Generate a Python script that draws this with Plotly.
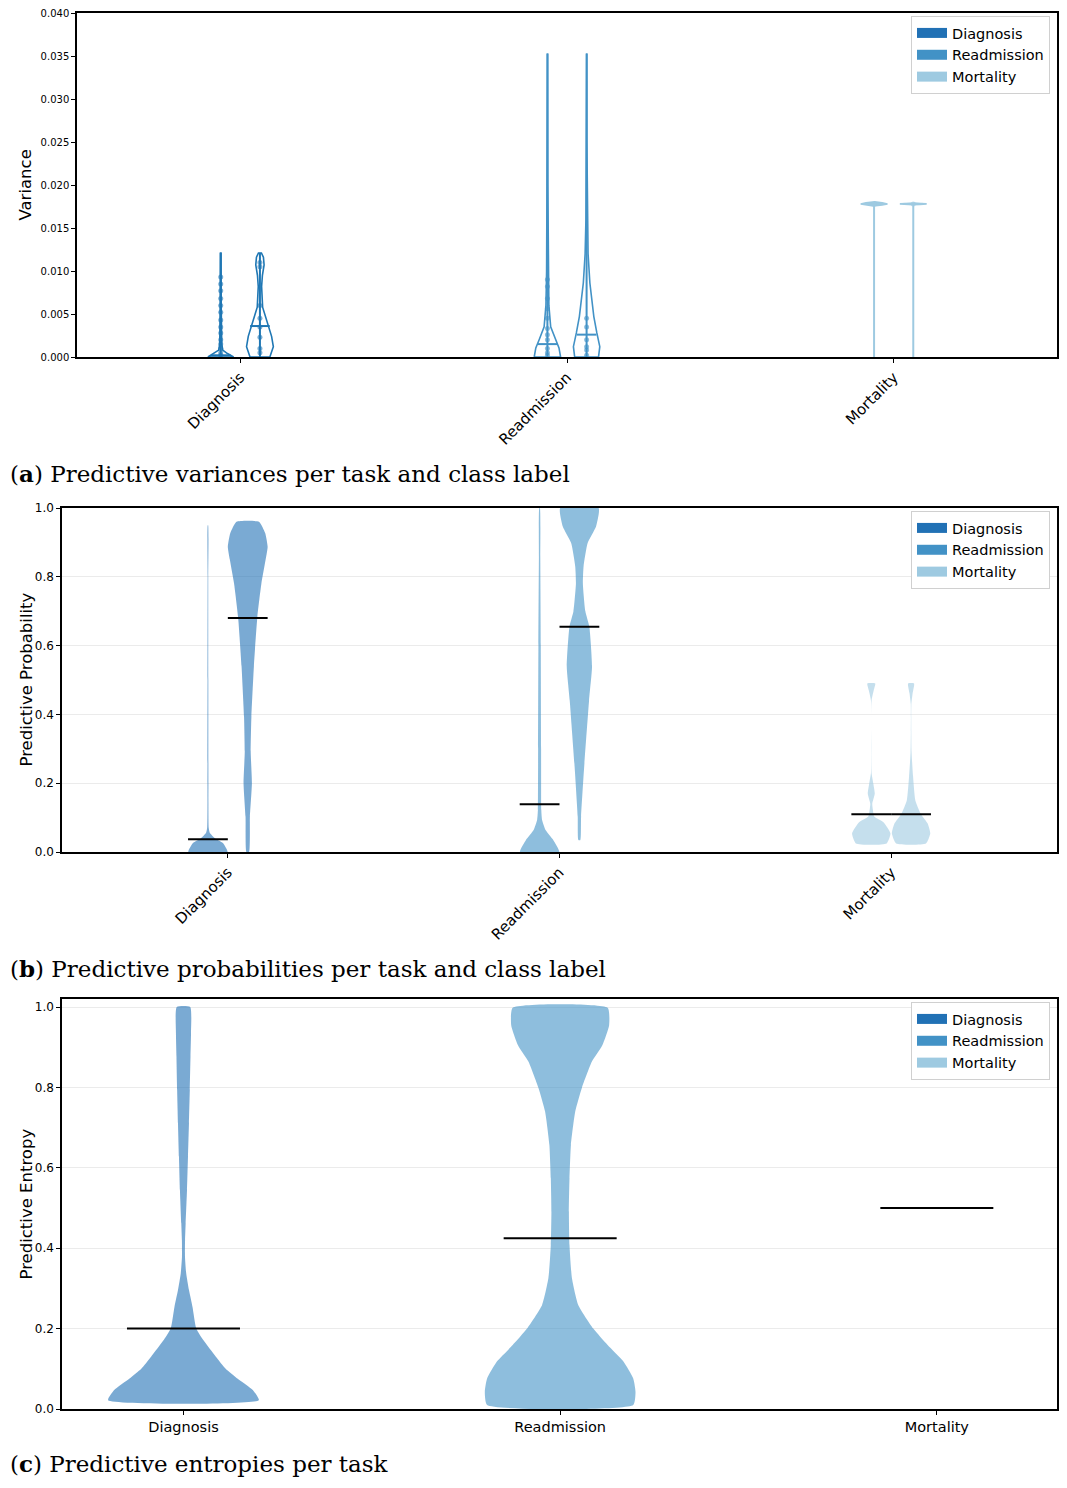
import plotly.graph_objects as go

# ---------------- data ----------------
tasks = ["Diagnosis", "Readmission", "Mortality"]
legend_colors = ["#2171b5", "#4292c6", "#9ecae1"]

# Panel (a): predictive variances, two class labels per task (outline violins)
a_diag0_vals = [0.0, 0.0004, 0.0008, 0.0015, 0.003, 0.006, 0.0121]
a_diag0_dens = [0.96, 0.5, 0.15, 0.075, 0.05, 0.035, 0.02]
a_diag1_vals = [0.0, 0.0012, 0.0024, 0.0039, 0.0058, 0.0082, 0.0095, 0.0107, 0.0116, 0.0121]
a_diag1_dens = [0.74, 1.0, 0.87, 0.555, 0.2, 0.125, 0.185, 0.31, 0.26, 0.11]
a_read0_vals = [0.0, 0.00105, 0.002, 0.0035, 0.006, 0.01, 0.02, 0.0353]
a_read0_dens = [0.985, 0.865, 0.615, 0.245, 0.11, 0.06, 0.03, 0.015]
a_read1_vals = [0.0, 0.0012, 0.0028, 0.0047, 0.0086, 0.012, 0.016, 0.025, 0.0353]
a_read1_dens = [0.89, 0.985, 0.765, 0.54, 0.245, 0.11, 0.05, 0.02, 0.015]
a_mort0_vals = [0.01755, 0.01768, 0.0178, 0.01792, 0.01805]
a_mort0_dens = [0.05, 0.6, 1.0, 0.6, 0.05]
a_mort1_vals = [0.0177, 0.01775, 0.0178, 0.01785, 0.0179]
a_mort1_dens = [0.05, 0.5, 1.0, 0.5, 0.05]
a_min = [[0.0, 0.0], [0.0, 0.0], [0.0, 0.0]]
a_max = [[0.0121, 0.0121], [0.0353, 0.0353], [0.01787, 0.01787]]
a_mean = [[0.0002, 0.0036], [0.0015, 0.0026], [0.0178, 0.0178]]
a_pts_diag0 = [0.0002, 0.0005, 0.001, 0.0015, 0.002, 0.0028, 0.0035, 0.0043, 0.0052, 0.006, 0.0068, 0.0077, 0.0085, 0.0093]
a_pts_diag1 = [0.0005, 0.001, 0.0023, 0.0035, 0.0045, 0.006, 0.0105, 0.011]
a_pts_read0 = [0.0002, 0.0005, 0.001, 0.002, 0.0026, 0.0033, 0.0045, 0.0056, 0.0068, 0.0082, 0.009]
a_pts_read1 = [0.0002, 0.0008, 0.0012, 0.002, 0.0035, 0.0045]
a_pts_mort0 = [0.0178]
a_pts_mort1 = [0.0178]

# Panel (b): predictive probabilities, two class labels per task
b_diag0_vals = [0.0, 0.026, 0.04, 0.055, 0.07, 0.2, 0.5, 0.8, 0.95]
b_diag0_dens = [0.985, 0.75, 0.35, 0.1, 0.04, 0.025, 0.02, 0.015, 0.01]
b_diag1_vals = [0.0, 0.103, 0.2, 0.29, 0.393, 0.54, 0.684, 0.78, 0.85, 0.887, 0.927, 0.96]
b_diag1_dens = [0.065, 0.11, 0.21, 0.15, 0.185, 0.31, 0.485, 0.685, 0.9, 1.0, 0.875, 0.565]
b_read0_vals = [0.0, 0.035, 0.064, 0.093, 0.122, 0.3, 0.6, 0.85, 1.0]
b_read0_dens = [0.985, 0.685, 0.3, 0.125, 0.085, 0.075, 0.06, 0.035, 0.015]
b_read1_vals = [0.035, 0.103, 0.248, 0.44, 0.539, 0.655, 0.70, 0.78, 0.83, 0.898, 0.946, 1.0]
b_read1_dens = [0.05, 0.085, 0.24, 0.485, 0.635, 0.5, 0.3, 0.175, 0.21, 0.415, 0.835, 0.965]
b_mort0_vals = [0.025, 0.054, 0.087, 0.103, 0.125, 0.14, 0.17, 0.2, 0.23, 0.3, 0.44, 0.47, 0.49]
b_mort0_dens = [0.775, 0.965, 0.6, 0.15, 0.075, 0.05, 0.175, 0.1, 0.015, 0.005, 0.015, 0.125, 0.2]
b_mort1_vals = [0.025, 0.054, 0.083, 0.11, 0.15, 0.22, 0.29, 0.35, 0.43, 0.46, 0.49]
b_mort1_dens = [0.75, 0.965, 0.835, 0.5, 0.215, 0.1, 0.025, 0.01, 0.015, 0.075, 0.15]
b_mean = [[0.037, 0.68], [0.139, 0.655], [0.11, 0.11]]

# Panel (c): predictive entropies per task
c_diag_vals = [0.022, 0.047, 0.075, 0.1, 0.13, 0.172, 0.2, 0.254, 0.296, 0.338, 0.379, 0.42,
               0.462, 0.545, 0.628, 0.711, 0.794, 0.877, 0.935, 1.0]
c_diag_dens = [1.0, 0.92, 0.72, 0.56, 0.43, 0.26, 0.17, 0.12, 0.073, 0.036, 0.02, 0.021,
               0.029, 0.047, 0.06, 0.073, 0.084, 0.093, 0.1, 0.089]
c_read_vals = [0.010, 0.043, 0.076, 0.118, 0.159, 0.20, 0.259, 0.326, 0.408, 0.49, 0.574,
               0.657, 0.74, 0.80, 0.864, 0.905, 0.955, 0.998]
c_read_dens = [0.97, 1.0, 0.97, 0.84, 0.63, 0.44, 0.24, 0.156, 0.124, 0.116, 0.124,
               0.143, 0.2, 0.29, 0.42, 0.56, 0.65, 0.63]
c_mean = [0.2, 0.425, 0.5]

# ---------------- layout constants ----------------
W, H = 1067, 1488
FONT = "DejaVu Sans"
a_colors = ["#1f77b4", "#4292c6", "#9ecae1"]
fill_colors = ["rgba(33,113,181,0.6)", "rgba(66,146,198,0.6)", "rgba(158,202,225,0.6)"]
OFF = 0.06


def py(p):
    return 1 - p / H


def px(p):
    return p / W


fig = go.Figure()


def poly(center, vals, dens, half):
    xs = [center - d * half for d in dens] + [center + d * half for d in reversed(dens)]
    ys = list(vals) + list(reversed(vals))
    xs.append(xs[0])
    ys.append(ys[0])
    return xs, ys


# ----- Panel a -----
a_sets = [
    [(a_diag0_vals, a_diag0_dens, a_pts_diag0), (a_diag1_vals, a_diag1_dens, a_pts_diag1)],
    [(a_read0_vals, a_read0_dens, a_pts_read0), (a_read1_vals, a_read1_dens, a_pts_read1)],
    [(a_mort0_vals, a_mort0_dens, a_pts_mort0), (a_mort1_vals, a_mort1_dens, a_pts_mort1)],
]
for t, pair in enumerate(a_sets):
    col = a_colors[t]
    for k, (vals, dens, pts) in enumerate(pair):
        c = t + (-OFF if k == 0 else OFF)
        xs, ys = poly(c, vals, dens, 0.041)
        fig.add_trace(go.Scatter(x=xs, y=ys, mode="lines", line=dict(color=col, width=1.6),
                                 fill="toself" if t == 2 else None,
                                 fillcolor=col, showlegend=False, xaxis="x", yaxis="y",
                                 hoverinfo="skip"))
        fig.add_trace(go.Scatter(x=[c, c], y=[a_min[t][k], a_max[t][k]], mode="lines",
                                 line=dict(color=col, width=2), showlegend=False,
                                 xaxis="x", yaxis="y"))
        fig.add_trace(go.Scatter(x=[c - 0.03, c + 0.03], y=[a_mean[t][k]] * 2, mode="lines",
                                 line=dict(color=col, width=2), showlegend=False,
                                 xaxis="x", yaxis="y"))
        fig.add_trace(go.Scatter(x=[c] * len(pts), y=pts, mode="markers",
                                 marker=dict(color=col, size=5, opacity=0.6),
                                 showlegend=False, xaxis="x", yaxis="y"))

# ----- Panel b -----
b_sets = [
    [(b_diag0_vals, b_diag0_dens), (b_diag1_vals, b_diag1_dens)],
    [(b_read0_vals, b_read0_dens), (b_read1_vals, b_read1_dens)],
    [(b_mort0_vals, b_mort0_dens), (b_mort1_vals, b_mort1_dens)],
]
for t, pair in enumerate(b_sets):
    for k, (vals, dens) in enumerate(pair):
        c = t + (-OFF if k == 0 else OFF)
        xs, ys = poly(c, vals, dens, 0.06)
        fig.add_trace(go.Scatter(x=xs, y=ys, mode="lines", line=dict(width=0, shape="spline", smoothing=0.5),
                                 fill="toself", fillcolor=fill_colors[t], showlegend=False,
                                 xaxis="x2", yaxis="y2", hoverinfo="skip"))
    for k in range(2):
        c = t + (-OFF if k == 0 else OFF)
        fig.add_trace(go.Scatter(x=[c - 0.06, c + 0.06], y=[b_mean[t][k]] * 2, mode="lines",
                                 line=dict(color="black", width=2), showlegend=False,
                                 xaxis="x2", yaxis="y2"))

# ----- Panel c -----
c_sets = [(c_diag_vals, c_diag_dens), (c_read_vals, c_read_dens)]
for t, (vals, dens) in enumerate(c_sets):
    xs, ys = poly(t, vals, dens, 0.2)
    fig.add_trace(go.Scatter(x=xs, y=ys, mode="lines", line=dict(width=0, shape="spline", smoothing=0.5),
                             fill="toself", fillcolor=fill_colors[t], showlegend=False,
                             xaxis="x3", yaxis="y3", hoverinfo="skip"))
for t in range(3):
    fig.add_trace(go.Scatter(x=[t - 0.15, t + 0.15], y=[c_mean[t]] * 2, mode="lines",
                             line=dict(color="black", width=2), showlegend=False,
                             xaxis="x3", yaxis="y3"))

# ----- legend entries -----
for li, (lg, xa, ya) in enumerate([("legend", "x", "y"), ("legend2", "x2", "y2"), ("legend3", "x3", "y3")]):
    for t in range(3):
        fig.add_trace(go.Scatter(x=[None], y=[None], mode="lines",
                                 line=dict(width=10, color=legend_colors[t]),
                                 name=tasks[t], legend=lg, xaxis=xa, yaxis=ya, showlegend=True))

axis_common = dict(showline=True, linecolor="black", linewidth=1.5, mirror=True,
                   ticks="outside", ticklen=4, tickwidth=1, tickcolor="black",
                   zeroline=False, automargin=False)

legend_common = dict(xanchor="right", yanchor="top", bgcolor="white", bordercolor="#d0d0d0",
                     borderwidth=1, font=dict(family=FONT, size=14.5, color="black"),
                     tracegroupgap=0)

fig.update_layout(
    width=W, height=H, margin=dict(l=0, r=0, t=0, b=0, autoexpand=False),
    plot_bgcolor="white", paper_bgcolor="white",
    xaxis=dict(domain=[px(77), px(1057)], range=[-0.5, 2.5], tickvals=[0, 1, 2], ticktext=tasks,
               tickangle=-45, showgrid=False, anchor="y",
               tickfont=dict(family=FONT, size=15, color="black"), **axis_common),
    yaxis=dict(domain=[py(357), py(13)], range=[0, 0.04], dtick=0.005, tickformat=".3f",
               showgrid=False, anchor="x",
               tickfont=dict(family=FONT, size=10, color="black"), **axis_common),
    xaxis2=dict(domain=[px(62), px(1057)], range=[-0.5, 2.5], tickvals=[0, 1, 2], ticktext=tasks,
                tickangle=-45, showgrid=False, anchor="y2",
                tickfont=dict(family=FONT, size=15, color="black"), **axis_common),
    yaxis2=dict(domain=[py(852), py(508)], range=[0, 1.0], dtick=0.2, tickformat=".1f",
                showgrid=True, gridcolor="#ebebeb", gridwidth=1, anchor="x2",
                tickfont=dict(family=FONT, size=12, color="black"), **axis_common),
    xaxis3=dict(domain=[px(62), px(1057)], range=[-0.3225, 2.319], tickvals=[0, 1, 2], ticktext=tasks,
                tickangle=0, showgrid=False, anchor="y3",
                tickfont=dict(family=FONT, size=14.5, color="black"), **axis_common),
    yaxis3=dict(domain=[py(1409), py(999)], range=[0, 1.02], dtick=0.2, tickformat=".1f",
                showgrid=True, gridcolor="#ebebeb", gridwidth=1, anchor="x3",
                tickfont=dict(family=FONT, size=12, color="black"), **axis_common),
    legend=dict(x=px(1050), y=py(16), **legend_common),
    legend2=dict(x=px(1050), y=py(511), **legend_common),
    legend3=dict(x=px(1050), y=py(1002), **legend_common),
)

# y-axis titles
for txt, yc in [("Variance", 185), ("Predictive Probability", 680), ("Predictive Entropy", 1204)]:
    fig.add_annotation(text=txt, x=px(25.5), y=py(yc), xref="paper", yref="paper",
                       textangle=-90, showarrow=False, xanchor="center", yanchor="middle",
                       font=dict(family=FONT, size=16.5, color="black"))

# captions
for txt, yc in [("(<b>a</b>) Predictive variances per task and class label", 473),
                ("(<b>b</b>) Predictive probabilities per task and class label", 968),
                ("(<b>c</b>) Predictive entropies per task", 1463)]:
    fig.add_annotation(text=txt, x=px(8), y=py(yc), xref="paper", yref="paper",
                       showarrow=False, xanchor="left", yanchor="middle",
                       font=dict(family="DejaVu Serif", size=23, color="black"))

fig.write_html("out.html")
